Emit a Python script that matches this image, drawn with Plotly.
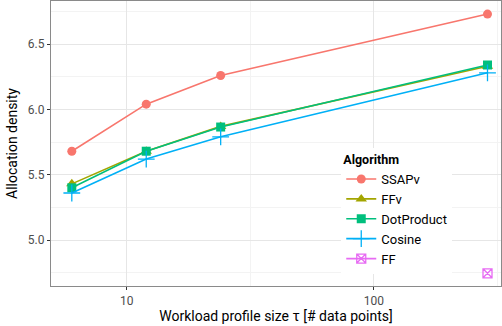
import plotly.graph_objects as go

# Data
profile_sizes = [6, 12, 24, 288]
ssapv = [5.68, 6.04, 6.26, 6.73]
ffv = [5.43, 5.68, 5.87, 6.33]
dotproduct = [5.40, 5.68, 5.865, 6.34]
cosine = [5.36, 5.62, 5.79, 6.28]
ff_x = [288]
ff = [4.745]
x_tickvals = [10, 100]
x_ticktext = ["10", "100"]
y_tickvals = [5.0, 5.5, 6.0, 6.5]
y_ticktext = ["5.0", "5.5", "6.0", "6.5"]

series = [
    ("SSAPv", profile_sizes, ssapv, "#F8766D", "circle", 9),
    ("FFv", profile_sizes, ffv, "#A3A500", "triangle-up", 10),
    ("DotProduct", profile_sizes, dotproduct, "#00BF7D", "square", 9),
    ("Cosine", profile_sizes, cosine, "#00B0F6", "cross-thin-open", 12),
    ("FF", ff_x, ff, "#E76BF3", "square-x-open", 9),
]

fig = go.Figure()
for name, xs, ys, color, sym, size in series:
    marker = dict(color=color, symbol=sym, size=size)
    if sym.endswith("open"):
        marker["line"] = dict(color=color, width=1.3)
    fig.add_trace(go.Scatter(
        x=xs, y=ys, name=name, mode="lines+markers",
        line=dict(color=color, width=1.6),
        marker=marker,
    ))

font_family = "Roboto, Arial, sans-serif"
fig.update_layout(
    width=502, height=326,
    margin=dict(l=51, r=1, t=1, b=40),
    paper_bgcolor="white", plot_bgcolor="white",
    font=dict(family=font_family, color="#000000"),
    legend=dict(
        x=0.645, y=0.485, xanchor="left", yanchor="top",
        bgcolor="white", borderwidth=0,
        title=dict(text="<b>Algorithm</b>", font=dict(size=12.5, color="#000")),
        font=dict(size=13, color="#000"),
        itemwidth=30, tracegroupgap=0,
    ),
    xaxis=dict(
        type="log", range=[0.694, 2.514],
        tickmode="array", tickvals=x_tickvals, ticktext=x_ticktext,
        showgrid=True, gridcolor="#e6e6e6", gridwidth=1,
        minor=dict(tickmode="array", tickvals=[31.62, 316.2], showgrid=True,
                   gridcolor="#f3f3f3", gridwidth=1, ticks=""),
        ticks="outside", ticklen=3, tickcolor="#333", tickwidth=1,
        tickfont=dict(size=12, color="#4d4d4d"),
        showline=True, linecolor="#8a8a8a", linewidth=1.2, mirror=True,
        zeroline=False,
        title=dict(text="Workload profile size \u03c4 [# data points]", font=dict(size=14, color="#000"), standoff=4),
    ),
    yaxis=dict(
        range=[4.648, 6.83],
        tickmode="array", tickvals=y_tickvals, ticktext=y_ticktext,
        showgrid=True, gridcolor="#e6e6e6", gridwidth=1,
        minor=dict(tickmode="array", tickvals=[4.75, 5.25, 5.75, 6.25, 6.75], showgrid=True,
                   gridcolor="#f3f3f3", gridwidth=1, ticks=""),
        ticks="outside", ticklen=3, tickcolor="#333", tickwidth=1,
        tickfont=dict(size=12, color="#4d4d4d"),
        showline=True, linecolor="#8a8a8a", linewidth=1.2, mirror=True,
        zeroline=False,
        title=dict(text="Allocation density", font=dict(size=14, color="#000"), standoff=6),
    ),
)

fig.write_html("out.html")
